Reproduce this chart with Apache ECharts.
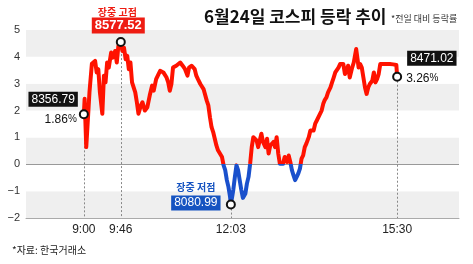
<!DOCTYPE html>
<html><head><meta charset="utf-8">
<script src="https://cdn.jsdelivr.net/npm/echarts@6/dist/echarts.min.js"></script>
<style>html,body{margin:0;padding:0;background:#fff}#c{width:473px;height:264px}</style>
</head><body><div id="c"></div>
<script>
// minutes after 9:00
const minutes = [0,1,3,7,10,14,16,18,20,23,25,27,29,31,34,36,39,41,43,45,46,48,50,52,54,56,58,60,62,64,66,68,71,73,76,79,82,85,87,90,93,95,99,103,105,107,109,111,115,117,120,123,126,129,131,134,136,138,140,142,145,147,149,151,153,155,157,159,161,163,165,167,169,172,174,176,178,180,182,183,186,188,190,192,194,196,198,201,203,205,207,209,211,213,215,217,219,221,223,226,228,230,232,234,236,238,240,242,244,246,248,250,253,255,257,259,261,263,265,267,269,271,273,275,277,280,282,284,286,288,290,292,294,296,298,300,302,304,307,309,311,313,315,317,319,321,323,325,327,329,331,334,336,338,339,341,342,344,346,348,350,352,354,356,359,361,363,365,367,369,371,373,375,381,385,389,390];
// KOSPI change vs previous close (%)
const changePct = [1.86,2.44,0.64,2.68,3.74,3.85,3.42,3.54,2.68,1.88,3.30,3.05,3.79,3.60,4.16,3.97,4.22,3.79,4.41,4.47,4.55,4.22,4.34,3.91,4.04,3.54,3.79,3.05,2.86,2.68,2.31,1.88,2.19,2.31,2.00,2.12,2.56,2.93,2.74,3.17,3.36,3.48,3.42,3.23,3.05,2.74,2.99,3.60,3.67,3.73,3.79,3.67,3.54,3.30,3.60,3.67,3.73,3.54,3.30,3.17,2.99,2.93,2.80,2.74,2.37,2.19,1.75,1.38,1.20,0.95,0.70,0.52,0.58,0.27,-0.04,-0.22,-0.59,-0.84,-1.21,-1.50,-0.96,-0.47,-0.04,-0.22,-0.59,-0.95,-1.25,-1.10,-0.72,-0.47,0.02,0.64,1.01,1.07,0.89,0.64,0.89,1.14,0.83,0.64,0.95,0.40,0.70,0.64,0.83,0.64,1.01,0.40,0.02,-0.04,0.02,0.27,0.09,0.33,0.09,-0.22,-0.41,-0.59,-0.47,-0.34,-0.16,0.21,0.33,0.64,0.77,1.01,1.26,1.32,1.26,1.51,1.63,1.57,1.88,2.00,2.25,2.40,2.49,2.68,2.86,3.05,3.23,3.42,3.48,3.60,3.73,3.67,3.73,3.36,3.48,3.67,3.23,3.60,3.79,3.73,4.29,3.85,3.60,3.73,3.60,3.23,2.86,2.62,2.86,2.99,3.11,3.42,3.05,3.17,3.36,3.73,3.79,3.73,3.79,3.73,3.72,3.70,3.26];
const tickMinutes = [0,46,183,390];
const tickLabels = ['9:00','9:46','12:03','15:30'];
const keyPct = [1.86,4.55,-1.50,3.26];
const keyIndex = [8356.79,8577.52,8080.99,8471.02];
const keyTitles = ['','장중 고점','장중 저점',''];

const NUMF = "'Liberation Sans','Noto Sans CJK KR',sans-serif";
const KRF = "'Noto Sans CJK KR',sans-serif";
const chart = echarts.init(document.getElementById('c'), null, {renderer:'canvas'});
const lineData = minutes.map((m,i)=>[m, changePct[i]]);
const keyPts = tickMinutes.map((m,i)=>[m, keyPct[i]]);
const fmt = v => v.toFixed(2);

function lbl(i, text, opts){
  return {value: keyPts[i], symbolSize: 0, label: Object.assign({show:true, position:'inside', formatter:text}, opts)};
}
const boxBase = {color:'#fff', fontFamily:NUMF, fontSize:12, padding:[1,3,0,3], lineHeight:14};
const pctRich = {n:{fontFamily:NUMF, fontSize:12, color:'#111'}, p:{fontFamily:NUMF, fontSize:10, color:'#111'}};

chart.setOption({
  animation:false,
  title:[
    {text:'6월24일 코스피 등락 추이', left:199, top:3, textStyle:{fontFamily:KRF, fontSize:17, fontWeight:'bold', color:'#111'}},
    {text:'*전일 대비 등락률', left:386, top:9, textStyle:{fontFamily:KRF, fontSize:9, fontWeight:'normal', color:'#333'}},
    {text:'*자료: 한국거래소', left:7, top:240, textStyle:{fontFamily:KRF, fontSize:10, fontWeight:'normal', color:'#222'}}
  ],
  grid:{left:26, right:14, top:30, bottom:46},
  xAxis:{type:'value', min:-72, max:467,
    axisLine:{show:true, onZero:false, lineStyle:{color:'#aaa', width:1}},
    axisTick:{show:false}, splitLine:{show:false},
    axisLabel:{customValues:tickMinutes, formatter:(v)=>tickLabels[tickMinutes.indexOf(v)], fontFamily:NUMF, fontSize:12, color:'#222', margin:6}
  },
  yAxis:{type:'value', min:-2, max:5, interval:1,
    axisLine:{show:false}, axisTick:{show:false}, splitLine:{show:false},
    splitArea:{show:true, areaStyle:{color:['#efefef','#ffffff']}},
    axisLabel:{fontFamily:NUMF, fontSize:11, color:'#333', margin:6, formatter:v=>String(v).replace('-','−')}
  },
  visualMap:{type:'piecewise', show:false, dimension:1, seriesIndex:0,
    pieces:[{gt:0, lte:10, color:'#ff1200'},{gte:-10, lte:0, color:'#1a50cc'}]},
  series:[
    {type:'line', data:lineData, symbol:'none', lineStyle:{width:4, join:'round'}, z:3},
    {type:'scatter', data:keyPts, symbol:'circle', symbolSize:8, z:5,
      itemStyle:{color:'#fff', borderColor:'#111', borderWidth:2, opacity:1},
      markLine:{silent:true, symbol:'none', label:{show:false}, z:2,
        data:[
          [{coord:[-72,0], lineStyle:{color:'#999', width:1, type:'solid'}},{coord:[467,0]}],
          ...keyPts.map(p=>[{coord:[p[0],p[1]], lineStyle:{color:'#888', width:1, type:[2,2]}},{coord:[p[0],-2]}])
        ]}
    },
    {type:'scatter', symbolSize:0, z:6, silent:true, itemStyle:{opacity:1}, data:[
      lbl(0, fmt(keyIndex[0]), Object.assign({align:'right', offset:[-6,-15], backgroundColor:'#111'}, boxBase)),
      lbl(0, '{n|1.86}{p|%}', {align:'right', offset:[-7,5], rich:pctRich}),
      lbl(1, fmt(keyIndex[1]), Object.assign({align:'center', offset:[-2.5,-16.5], backgroundColor:'#ee1c12', fontWeight:'bold'}, boxBase, {fontSize:13, lineHeight:15})),
      lbl(1, keyTitles[1], {align:'center', offset:[-3.5,-30], fontFamily:KRF, fontSize:10, fontWeight:'bold', color:'#ee1c12'}),
      lbl(2, fmt(keyIndex[2]), Object.assign({align:'center', offset:[-35,-1.5], backgroundColor:'#1553c1'}, boxBase)),
      lbl(2, keyTitles[2], {align:'center', offset:[-35,-17], fontFamily:KRF, fontSize:10, fontWeight:'bold', color:'#1553c1'}),
      lbl(3, fmt(keyIndex[3]), Object.assign({align:'left', offset:[10,-18.5], backgroundColor:'#111'}, boxBase)),
      lbl(3, '{n|3.26}{p|%}', {align:'left', offset:[9,2], rich:pctRich})
    ]}
  ]
});
</script></body></html>
